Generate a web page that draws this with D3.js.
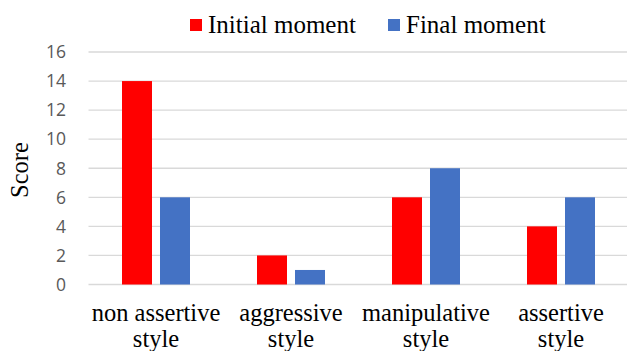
<!DOCTYPE html>
<html><head><meta charset="utf-8">
<script src="https://cdn.jsdelivr.net/npm/d3@7"></script>
<style>body{margin:0;background:#fff}</style>
</head><body>
<svg id="c" width="627" height="351"></svg>
<script>
const categories = [["non assertive","style"],["aggressive","style"],["manipulative","style"],["assertive","style"]];
const seriesNames = ["Initial moment","Final moment"];
const initialMoment = [14,2,6,4];
const finalMoment = [6,1,8,6];
const yTicks = [0,2,4,6,8,10,12,14,16];
const colors = ["#FF0000","#4472C4"];

const svg = d3.select("#c");
const pLeft = 88.5, pRight = 628.5, pTop = 52, pBottom = 284.5;
const y = d3.scaleLinear().domain([0,16]).range([pBottom, pTop]);
const x0 = d3.scaleBand().domain(d3.range(categories.length)).range([pLeft, pRight]).paddingInner(0).paddingOuter(0);
const bw = x0.bandwidth();
const x1 = d3.scaleBand().domain([0,1]).range([33.5, bw-33.5]).paddingInner(8/38);
const serif = "Liberation Serif, Times New Roman, serif";

// gridlines
svg.append("g").selectAll("line").data(yTicks).join("line")
  .attr("x1", pLeft).attr("x2", 627)
  .attr("y1", d=>y(d)).attr("y2", d=>y(d))
  .attr("stroke", "#D9D9D9").attr("stroke-width", 1.3);

// y tick labels
svg.append("g").selectAll("text").data(yTicks).join("text")
  .attr("x", 66).attr("y", d=>y(d)).attr("dy","0.36em")
  .attr("text-anchor","end")
  .attr("font-family","Open Sans, sans-serif").attr("font-size", 17.5).attr("fill","#595959")
  .text(d=>d);

// bars
const data = categories.map((c,i)=>[initialMoment[i], finalMoment[i]]);
const g = svg.append("g").selectAll("g").data(data).join("g")
  .attr("transform", (d,i)=>`translate(${x0(i)},0)`);
g.selectAll("rect").data(d=>d.map((v,j)=>({v,j}))).join("rect")
  .attr("x", d=>x1(d.j)).attr("width", x1.bandwidth())
  .attr("y", d=>y(d.v)).attr("height", d=>y(0)-y(d.v))
  .attr("fill", d=>colors[d.j]);

// category labels
const cl = svg.append("g").selectAll("text").data(categories).join("text")
  .attr("text-anchor","middle")
  .attr("font-family", serif).attr("font-size", 24.5).attr("fill","#000");
cl.each(function(d,i){
  const t = d3.select(this);
  const cx = x0(i) + bw/2;
  d.forEach((line,k)=>{
    t.append("tspan").attr("x", cx).attr("y", 321 + k*25.5).text(line);
  });
});

// y axis title
svg.append("text").attr("transform","translate(28,170) rotate(-90)")
  .attr("text-anchor","middle")
  .attr("font-family", serif).attr("font-size", 24.5).attr("fill","#000")
  .text("Score");

// legend
const legX = [190, 388];
const lg = svg.append("g").selectAll("g").data(seriesNames).join("g")
  .attr("transform",(d,i)=>`translate(${legX[i]},0)`);
lg.append("rect").attr("x",0).attr("y",19).attr("width",12).attr("height",12).attr("fill",(d,i)=>colors[i]);
lg.append("text").attr("x",18).attr("y",33)
  .attr("font-family", serif).attr("font-size", 25).attr("fill","#000")
  .text(d=>d);
</script>
</body></html>
